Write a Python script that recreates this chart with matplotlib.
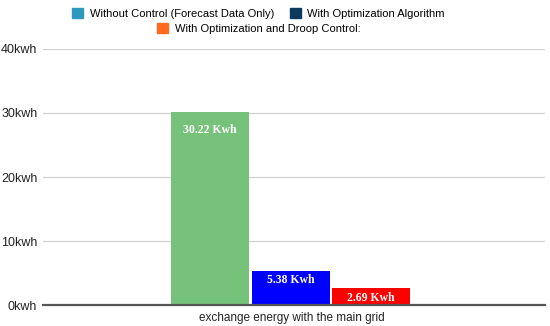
import matplotlib.pyplot as plt
from matplotlib.patches import Patch

# data
categories = ["Without Control (Forecast Data Only)", "With Optimization Algorithm",
              "With Optimization and Droop Control:"]
values = [30.22, 5.38, 2.69]
bar_labels = ["30.22 Kwh", "5.38 Kwh", "2.69 Kwh"]
yticks = [0, 10, 20, 30, 40]
xlabel = "exchange energy with the main grid"

bar_colors = ["#77c27a", "#0000ff", "#ff0000"]
legend_colors = ["#2e98bd", "#0b3a5e", "#ff6a1f"]
label_offsets = [-13, -7, -7]

plt.rcParams['font.family'] = ['Liberation Sans', 'DejaVu Sans']

fig = plt.figure(figsize=(5.5, 3.26), dpi=100)
ax = fig.add_axes([0.078, 0.064, 0.913, 0.786])

x = [0, 1, 2]
ax.bar(x, values, width=0.97, color=bar_colors, zorder=3)

for xi, v, lab, off in zip(x, values, bar_labels, label_offsets):
    ax.annotate(lab, (xi, v), xytext=(0, off), textcoords="offset points",
                ha="center", va="center", color="white", fontsize=8.5,
                fontweight="bold", family="Liberation Serif", zorder=4)

ax.set_xlim(-2.08, 4.16)
ax.set_ylim(0, 40)
ax.set_yticks(yticks)
ax.set_yticklabels([f"{t}kwh" for t in yticks], fontsize=9, color="#222222")
ax.set_xticks([])
ax.grid(axis="y", color="#d0d0d0", linewidth=0.9, zorder=0)
ax.tick_params(axis="y", length=0, pad=4)
for s in ["top", "right", "left"]:
    ax.spines[s].set_visible(False)
ax.spines["bottom"].set_color("#555555")
ax.spines["bottom"].set_linewidth(1.6)
ax.spines["bottom"].set_zorder(5)

fig.text(0.53, 0.025, xlabel, ha="center", va="center", fontsize=8.5, color="#222222")

handles = [Patch(color=c, label=l) for c, l in zip(legend_colors, categories)]
leg_kw = dict(frameon=False, fontsize=8, handlelength=1.0, handleheight=1.0,
              handletextpad=0.6, borderaxespad=0, borderpad=0)
fig.legend(handles=handles[:2], loc="center", bbox_to_anchor=(0.47, 0.958), ncol=2,
           columnspacing=1.4, **leg_kw)
fig.legend(handles=handles[2:], loc="center", bbox_to_anchor=(0.47, 0.912), ncol=1,
           **leg_kw)

fig.savefig("out.png", dpi=100)
